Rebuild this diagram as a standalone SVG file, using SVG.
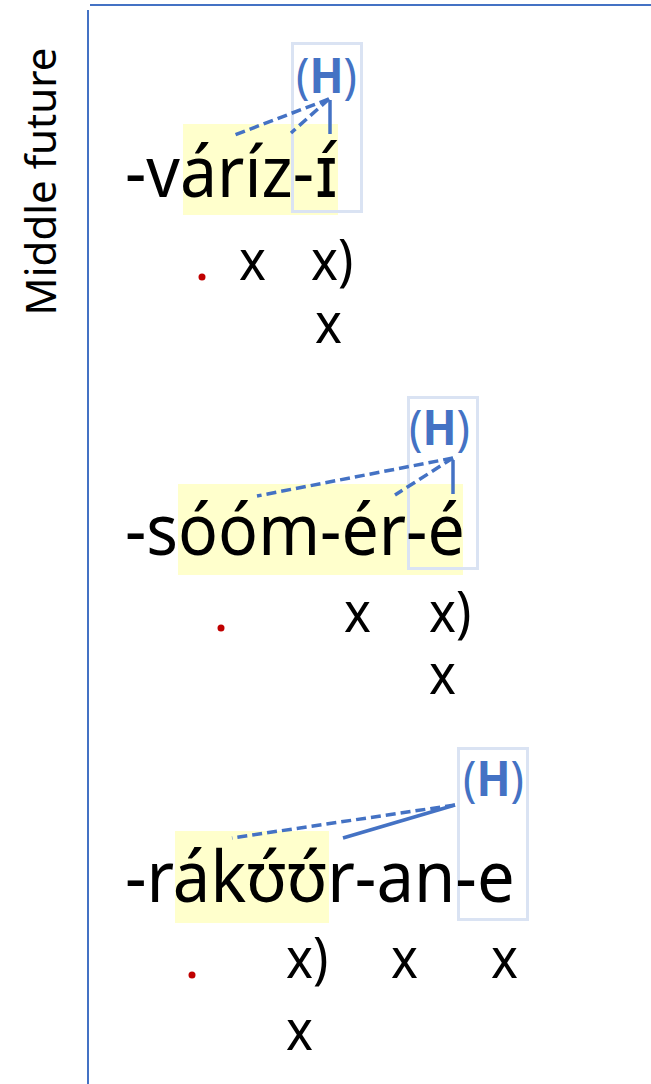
<svg xmlns="http://www.w3.org/2000/svg" width="651" height="1084" viewBox="0 0 651 1084">
<style>
text{font-family:"Noto Sans","DejaVu Sans",sans-serif;}
.w{font-size:72px;fill:#000}
.t{font-size:56px;fill:#000}
.h{font-size:49px;fill:#4472C4}
.hb{font-weight:bold}
.ipa{font-family:"DejaVu Sans",sans-serif}
.hl{fill:#FFFFCC}
.bx{fill:none;stroke:#DAE3F3;stroke-width:3}
.dot{fill:#C00000}
.ln{stroke:#4472C4;stroke-width:3.5;fill:none}
.ds{stroke-dasharray:10 5}
.frame{stroke:#4472C4;stroke-width:2;fill:none}
</style>
<rect width="651" height="1084" fill="#fff"/>
<g id="frame">
<line class="frame" x1="90" y1="5" x2="651" y2="5"/>
<line class="frame" x1="88" y1="10" x2="88" y2="1084"/>
<text transform="translate(56,181.5) rotate(-90)" text-anchor="middle" style="font-size:42px">Middle future</text>
</g>
<g id="row1">
<rect class="hl" x="183" y="124" width="155" height="91"/>
<rect class="bx" x="292.5" y="43.5" width="69" height="168"/>
<text class="w" transform="translate(125,197) scale(0.92,1)">-váríz-<tspan class="ipa">ɪ́</tspan></text>
<text class="h" transform="translate(296,93) scale(0.91,1)">(<tspan class="hb">H</tspan>)</text>
<circle class="dot" cx="202" cy="277" r="3.5"/>
<text class="t" transform="translate(239,280) scale(0.91,1)">x</text>
<text class="t" transform="translate(311,280) scale(0.91,1)">x)</text>
<text class="t" transform="translate(315,343) scale(0.91,1)">x</text>
</g>
<g id="row2">
<rect class="hl" x="178" y="484" width="285" height="91"/>
<rect class="bx" x="408.5" y="397.5" width="69" height="171"/>
<text class="w" transform="translate(125,555) scale(0.92,1)">-sóóm-ér-é</text>
<text class="h" transform="translate(409,445) scale(0.91,1)">(<tspan class="hb">H</tspan>)</text>
<circle class="dot" cx="221" cy="628" r="3.5"/>
<text class="t" transform="translate(344,632) scale(0.91,1)">x</text>
<text class="t" transform="translate(429,632) scale(0.91,1)">x)</text>
<text class="t" transform="translate(429,694) scale(0.91,1)">x</text>
</g>
<g id="row3">
<rect class="hl" x="175" y="831" width="154" height="92"/>
<rect class="bx" x="458.5" y="748.5" width="69" height="171"/>
<text class="w" transform="translate(125,902) scale(0.93,1)">-rákʊ́ʊ́r-an-e</text>
<text class="h" transform="translate(463,796) scale(0.91,1)">(<tspan class="hb">H</tspan>)</text>
<circle class="dot" cx="192" cy="975" r="3.5"/>
<text class="t" transform="translate(286,978) scale(0.91,1)">x)</text>
<text class="t" transform="translate(391,978) scale(0.91,1)">x</text>
<text class="t" transform="translate(491,978) scale(0.91,1)">x</text>
<text class="t" transform="translate(286,1050) scale(0.91,1)">x</text>
</g>
<g id="connectors">
<line class="ln ds" x1="329" y1="99" x2="232" y2="136"/>
<line class="ln ds" x1="329" y1="99" x2="291" y2="133"/>
<line class="ln" x1="330" y1="100" x2="330" y2="134"/>
<line class="ln ds" x1="453" y1="458" x2="257" y2="496"/>
<line class="ln ds" x1="453" y1="458" x2="395" y2="495"/>
<line class="ln" x1="453" y1="460" x2="453" y2="494"/>
<line class="ln ds" x1="455" y1="805" x2="232" y2="838"/>
<line class="ln" x1="455" y1="805" x2="343" y2="838"/>
</g>
</svg>
